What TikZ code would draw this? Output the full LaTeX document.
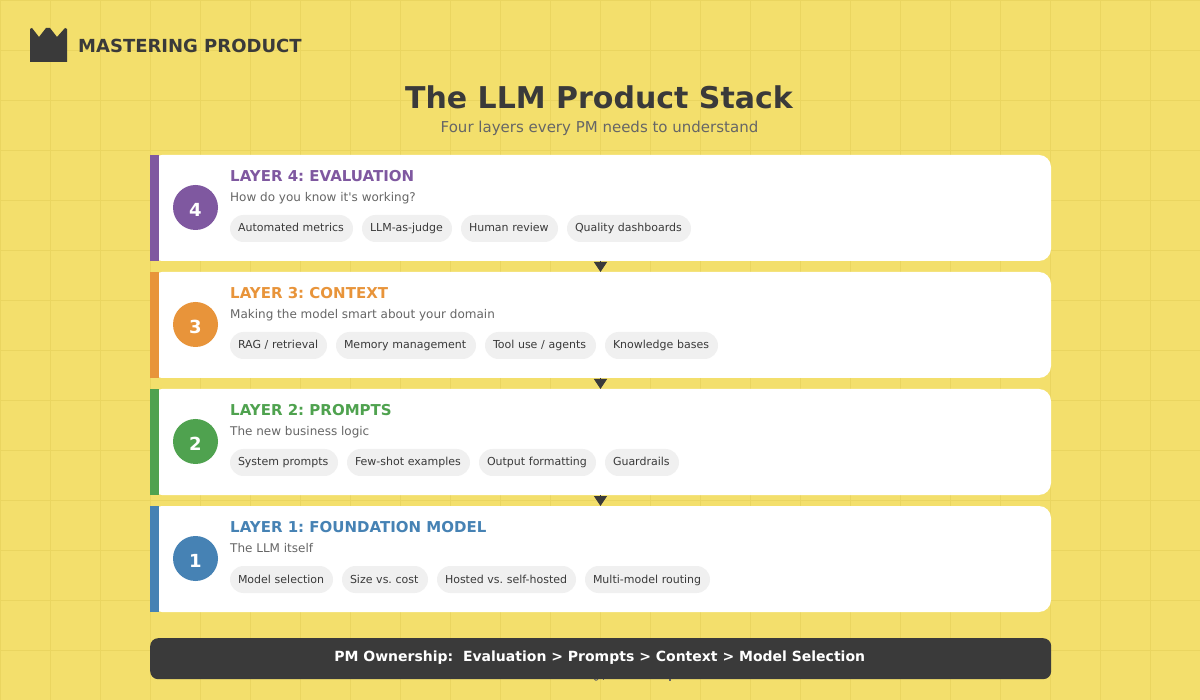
\documentclass[tikz,border=0pt]{standalone}
\usepackage{xcolor}
\usepackage{fontspec}
\setmainfont[Ligatures=TeXOff]{DejaVu Sans}
\frenchspacing
\usetikzlibrary{arrows.meta,positioning,calc}
\definecolor{pagecolor}{RGB}{243,223,108}
\definecolor{gridcolor}{RGB}{234,213,96}
\definecolor{darkcolor}{RGB}{58,58,58}
\definecolor{subcolor}{RGB}{102,102,102}
\definecolor{chipcolor}{RGB}{240,240,240}
\definecolor{layerfour}{RGB}{127,88,160}
\definecolor{layerthree}{RGB}{232,148,58}
\definecolor{layertwo}{RGB}{79,162,79}
\definecolor{layerone}{RGB}{70,130,180}

\begin{document}
\begin{tikzpicture}[
  x=1pt,y=-1pt,
  cardbox/.style={rectangle,rounded corners=12pt,fill=white,minimum width=901pt,minimum height=106pt,inner sep=0pt,outer sep=0pt},
  sidebar/.style={rectangle,minimum width=9pt,minimum height=106pt,inner sep=0pt,outer sep=0pt},
  badge/.style={circle,minimum size=45pt,inner sep=0pt,outer sep=0pt,text=white,text height=18pt,text depth=0pt,font=\fontsize{18}{20}\selectfont\bfseries},
  headtext/.style={anchor=base west,inner sep=0pt,font=\fontsize{15}{18}\selectfont\bfseries},
  subtext/.style={anchor=base west,inner sep=0pt,text=subcolor,font=\fontsize{12}{14}\selectfont},
  chip/.style={rectangle,rounded corners=13.5pt,fill=chipcolor,text=darkcolor,minimum height=27pt,text width=#1pt-16pt,align=left,text height=9.5pt,text depth=2.5pt,inner xsep=8pt,inner ysep=0pt,outer sep=0pt,font=\fontsize{11}{13}\selectfont,execute at begin node=\hbox\bgroup,execute at end node=\egroup},
  flow/.style={-{Triangle[length=10pt,width=13pt]},draw=darkcolor,line width=1pt}
]
  \useasboundingbox (0,0) rectangle (1200,700);
  \fill[pagecolor] (0,0) rectangle (1200,700);
  \foreach \gx in {0,50,...,1150} \draw[gridcolor,line width=1pt] (\gx+0.5,0) -- (\gx+0.5,700);
  \foreach \gy in {0,50,...,650} \draw[gridcolor,line width=1pt] (0,\gy+0.5) -- (1200,\gy+0.5);

  % logo and title
  \fill[darkcolor] (30,62) -- (30,29) -- (32,28) -- (39,37) -- (46,28) -- (50,28) -- (57,37) -- (65,28) -- (67,29) -- (67,62) -- cycle;
  \node[anchor=base west,inner sep=0pt,text=darkcolor,font=\fontsize{18}{20}\selectfont\bfseries] (brand) at (78,53) {MASTERING PRODUCT};
  \node[anchor=base,inner sep=0pt,text=darkcolor,font=\fontsize{30}{34}\selectfont\bfseries] (title) at (599,109) {The LLM Product Stack};
  \node[anchor=base,inner sep=0pt,text=subcolor,font=\fontsize{15}{18}\selectfont] (subtitle) at (599.5,132.5) {Four layers every PM needs to understand};

  % cards
  \node[cardbox,anchor=north west] (card4) at (150,155) {};
  \node[cardbox,below=11pt of card4] (card3) {};
  \node[cardbox,below=11pt of card3] (card2) {};
  \node[cardbox,below=11pt of card2] (card1) {};
  \node[sidebar,fill=layerfour,anchor=west] (bar4) at (card4.west) {};
  \node[sidebar,fill=layerthree,anchor=west] (bar3) at (card3.west) {};
  \node[sidebar,fill=layertwo,anchor=west] (bar2) at (card2.west) {};
  \node[sidebar,fill=layerone,anchor=west] (bar1) at (card1.west) {};

  \node[badge,fill=layerfour] (badge4) at ($(card4.west)+(45.5,-0.5)$) {4};
  \node[badge,fill=layerthree] (badge3) at ($(card3.west)+(45.5,-0.5)$) {3};
  \node[badge,fill=layertwo] (badge2) at ($(card2.west)+(45.5,-0.5)$) {2};
  \node[badge,fill=layerone] (badge1) at ($(card1.west)+(45.5,-0.5)$) {1};

  \node[headtext,text=layerfour] (head4) at ($(card4.north west)+(80,26.7)$) {LAYER 4: EVALUATION};
  \node[subtext] (sub4) at ($(card4.north west)+(80,46.7)$) {How do you know it's working?};
  \node[chip=123,anchor=west] (chip4a) at ($(card4.west)+(80,20.5)$) {Automated metrics};
  \node[chip=90,right=9pt of chip4a] (chip4b) {LLM-as-judge};
  \node[chip=97,right=9pt of chip4b] (chip4c) {Human review};
  \node[chip=124,right=9pt of chip4c] (chip4d) {Quality dashboards};

  \node[headtext,text=layerthree] (head3) at ($(card3.north west)+(80,26.7)$) {LAYER 3: CONTEXT};
  \node[subtext] (sub3) at ($(card3.north west)+(80,46.7)$) {Making the model smart about your domain};
  \node[chip=97,anchor=west] (chip3a) at ($(card3.west)+(80,20.5)$) {RAG / retrieval};
  \node[chip=140,right=9pt of chip3a] (chip3b) {Memory management};
  \node[chip=111,right=9pt of chip3b] (chip3c) {Tool use / agents};
  \node[chip=113,right=9pt of chip3c] (chip3d) {Knowledge bases};

  \node[headtext,text=layertwo] (head2) at ($(card2.north west)+(80,26.7)$) {LAYER 2: PROMPTS};
  \node[subtext] (sub2) at ($(card2.north west)+(80,46.7)$) {The new business logic};
  \node[chip=108,anchor=west] (chip2a) at ($(card2.west)+(80,20.5)$) {System prompts};
  \node[chip=123,right=9pt of chip2a] (chip2b) {Few-shot examples};
  \node[chip=117,right=9pt of chip2b] (chip2c) {Output formatting};
  \node[chip=74,right=9pt of chip2c] (chip2d) {Guardrails};

  \node[headtext,text=layerone] (head1) at ($(card1.north west)+(80,26.7)$) {LAYER 1: FOUNDATION MODEL};
  \node[subtext] (sub1) at ($(card1.north west)+(80,46.7)$) {The LLM itself};
  \node[chip=103,anchor=west] (chip1a) at ($(card1.west)+(80,20.5)$) {Model selection};
  \node[chip=86,right=9pt of chip1a] (chip1b) {Size vs. cost};
  \node[chip=139,right=9pt of chip1b] (chip1c) {Hosted vs. self-hosted};
  \node[chip=125,right=9pt of chip1c] (chip1d) {Multi-model routing};

  \draw[flow] (card4) -- (card3);
  \draw[flow] (card3) -- (card2);
  \draw[flow] (card2) -- (card1);

  % ownership bar, with the tails of the covered line under it
  \draw[subcolor,line width=1pt] (594,678) .. controls (595,681) and (597,681) .. (598.5,678);
  \fill[subcolor] (602.5,678) rectangle (604,680);
  \fill[subcolor] (669,678) rectangle (670.5,681);
  \node[rectangle,rounded corners=8pt,fill=darkcolor,text=white,anchor=north west,minimum width=901pt,minimum height=41pt,inner sep=0pt,text height=10.6pt,text depth=5pt,font=\fontsize{14}{16}\selectfont\bfseries] (owner) at (150,638) {PM Ownership:\ \ Evaluation > Prompts > Context > Model Selection\hspace*{2pt}};
\end{tikzpicture}
\end{document}
